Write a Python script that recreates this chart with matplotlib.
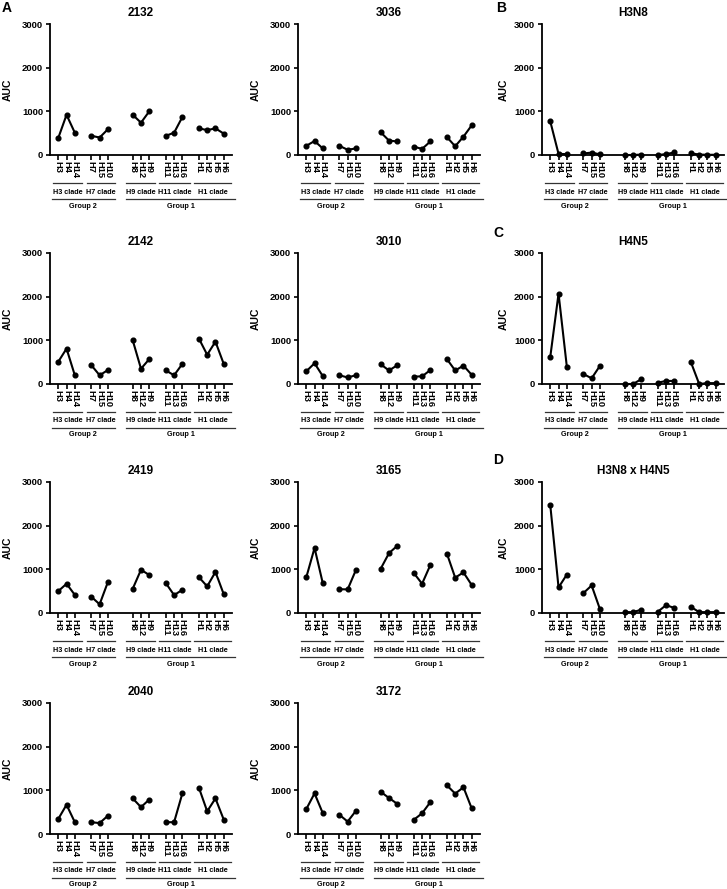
import matplotlib
matplotlib.use('Agg')
import matplotlib.pyplot as plt

plt.rcParams['font.family'] = ['Liberation Sans', 'DejaVu Sans']
plt.rcParams['font.weight'] = 'bold'

# x categories (HA subtypes) grouped by clade
subtypes = ['H3', 'H4', 'H14', 'H7', 'H15', 'H10', 'H8', 'H12', 'H9',
            'H11', 'H13', 'H16', 'H1', 'H2', 'H5', 'H6']
positions = [1, 2, 3, 5, 6, 7, 10, 11, 12, 14, 15, 16, 18, 19, 20, 21]
clade_names = ['H3 clade', 'H7 clade', 'H9 clade', 'H11 clade', 'H1 clade']
clade_sizes = [3, 3, 3, 3, 4]
group_names = ['Group 2', 'Group 1']

# AUC values per panel
auc_2132 = [390, 920, 510, 440, 400, 590, 920, 740, 1000, 440, 510, 870, 610, 570, 610, 490]
auc_3036 = [210, 320, 150, 210, 120, 150, 520, 330, 310, 190, 140, 310, 410, 200, 420, 680]
auc_h3n8 = [770, 25, 20, 35, 55, 15, 0, 0, 10, 0, 20, 60, 40, 10, 5, 5]
auc_2142 = [510, 810, 200, 430, 200, 320, 1000, 350, 570, 310, 200, 460, 1040, 670, 970, 460]
auc_3010 = [290, 475, 180, 200, 150, 200, 450, 310, 430, 170, 175, 320, 570, 310, 420, 210]
auc_h4n5 = [620, 2070, 400, 230, 130, 415, 0, 0, 110, 30, 70, 70, 500, 0, 20, 20]
auc_2419 = [500, 670, 415, 370, 200, 710, 555, 990, 870, 685, 410, 530, 820, 610, 940, 430]
auc_3165 = [815, 1490, 680, 545, 540, 985, 1015, 1370, 1540, 915, 670, 1100, 1360, 810, 930, 640]
auc_h3n8_h4n5 = [2470, 585, 880, 455, 630, 90, 20, 20, 75, 30, 180, 115, 140, 20, 20, 20]
auc_2040 = [345, 670, 270, 270, 250, 420, 815, 615, 790, 270, 270, 930, 1060, 520, 815, 330]
auc_3172 = [570, 930, 475, 440, 285, 530, 965, 825, 690, 325, 475, 730, 1115, 925, 1070, 585]

panels = [
    ('2132', auc_2132, 0, 0), ('3036', auc_3036, 0, 1), ('H3N8', auc_h3n8, 0, 2),
    ('2142', auc_2142, 1, 0), ('3010', auc_3010, 1, 1), ('H4N5', auc_h4n5, 1, 2),
    ('2419', auc_2419, 2, 0), ('3165', auc_3165, 2, 1), ('H3N8 x H4N5', auc_h3n8_h4n5, 2, 2),
    ('2040', auc_2040, 3, 0), ('3172', auc_3172, 3, 1),
]

W, H = 727, 889
fig = plt.figure(figsize=(W / 100, H / 100), dpi=100)

col_left = [50, 298, 542]
row_top = [24, 253, 482, 703]
ax_w, ax_h = 182, 131
auc_off = [42, 42, 38]

clade_spans = [(0.4, 3.9), (4.5, 7.8), (9.2, 12.7), (13.2, 16.9), (17.4, 21.9)]
group_spans = [(0.2, 7.8), (9.2, 22.4)]

for title, vals, r, c in panels:
    ax = fig.add_axes([col_left[c] / W, 1 - (row_top[r] + ax_h) / H, ax_w / W, ax_h / H])
    ax.set_xlim(0, 22)
    ax.set_ylim(0, 3000)
    for s in ['top', 'right']:
        ax.spines[s].set_visible(False)
    for s in ['left', 'bottom']:
        ax.spines[s].set_linewidth(1.3)
    ax.set_yticks([0, 1000, 2000, 3000])
    ax.tick_params(axis='y', length=3, width=1.2, labelsize=6.8, pad=2)
    ax.set_xticks(positions)
    ax.set_xticklabels(subtypes, rotation=270, fontsize=6.7)
    ax.tick_params(axis='x', length=3.5, width=1.2, pad=1)

    start = 0
    for n in clade_sizes:
        ax.plot(positions[start:start + n], vals[start:start + n], '-o', color='black',
                lw=1.5, ms=3.4, clip_on=False, zorder=3)
        start += n

    trans = ax.get_xaxis_transform()
    for name, (x0, x1) in zip(clade_names, clade_spans):
        ax.plot([x0, x1], [-28 / ax_h] * 2, color='#333333', lw=0.9, transform=trans, clip_on=False)
        ax.text((x0 + x1) / 2, -37 / ax_h, name, transform=trans, ha='center', va='center', fontsize=5.2)
    for name, (x0, x1) in zip(group_names, group_spans):
        ax.plot([x0, x1], [-44 / ax_h] * 2, color='#333333', lw=0.9, transform=trans, clip_on=False)
        ax.text((x0 + x1) / 2, -51 / ax_h, name, transform=trans, ha='center', va='center', fontsize=5.2)

    ax.text(0.5, 1 + 11 / ax_h, title, transform=ax.transAxes, ha='center', va='center', fontsize=8.5)
    ax.text(-auc_off[c] / ax_w, 0.5, 'AUC', transform=ax.transAxes, rotation=90,
            ha='center', va='center', fontsize=7.5)

for letter, (x, y) in zip('ABCD', [(7, 8), (501, 8), (498, 233), (498, 460)]):
    fig.text(x / W, 1 - y / H, letter, ha='center', va='center', fontsize=10)

fig.savefig('out.png', dpi=100)
